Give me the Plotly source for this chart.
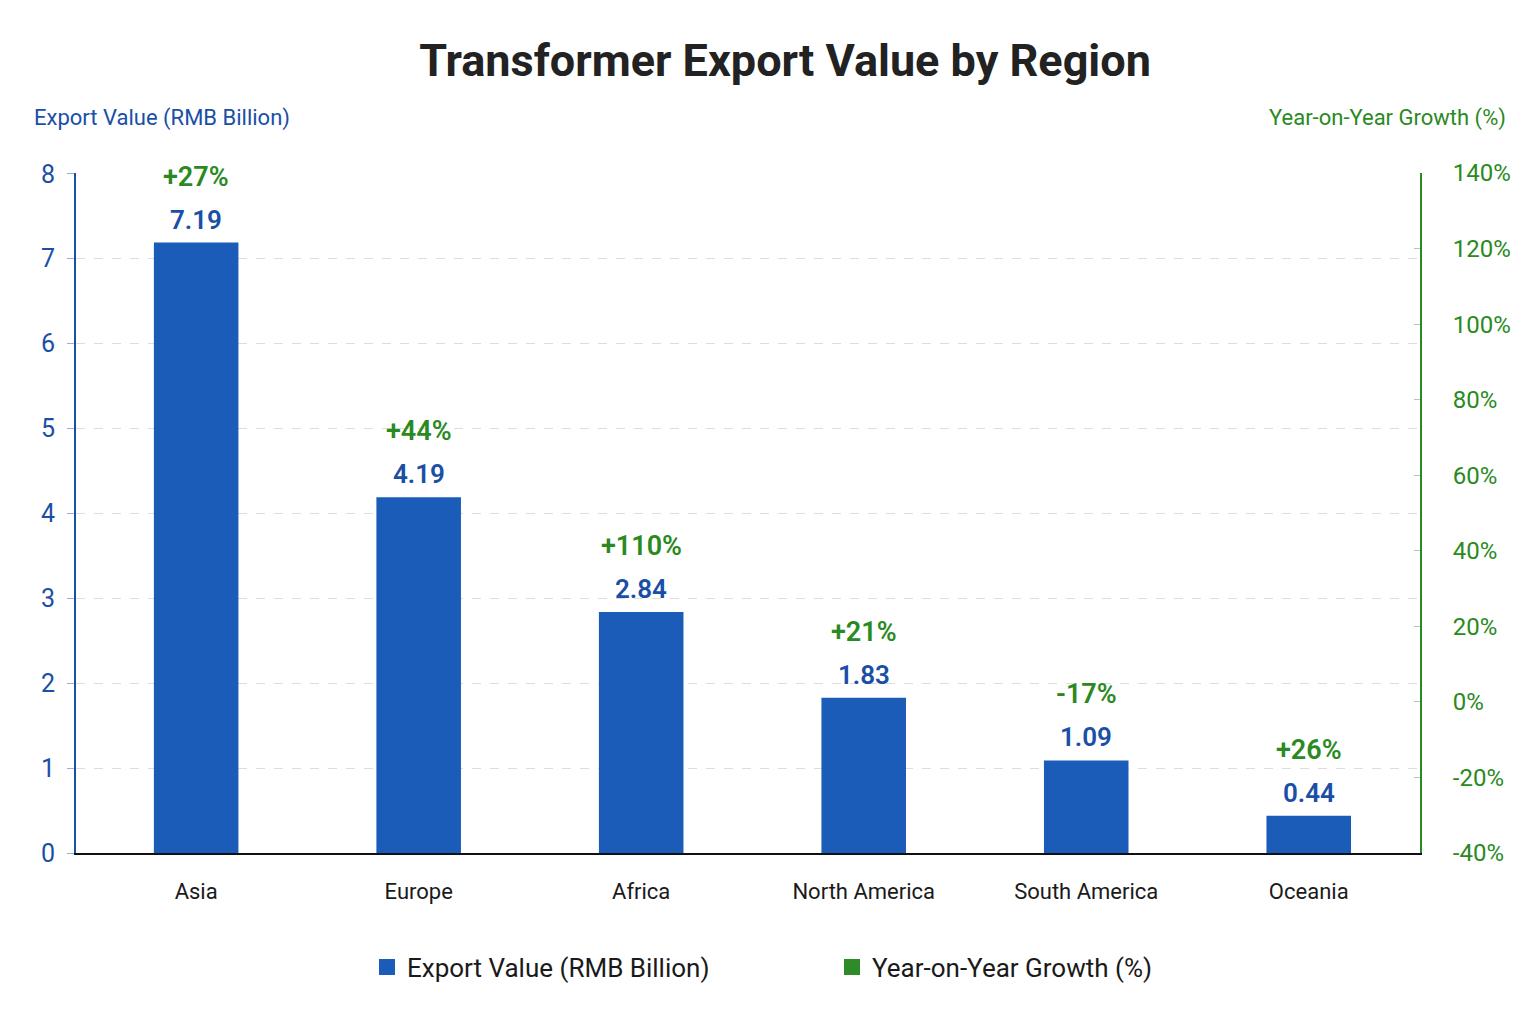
import plotly.graph_objects as go

regions = ["Asia", "Europe", "Africa", "North America", "South America", "Oceania"]
export_value = [7.19, 4.19, 2.84, 1.83, 1.09, 0.44]
yoy_growth = [27, 44, 110, 21, -17, 26]

left_ticks = [0, 1, 2, 3, 4, 5, 6, 7, 8]
right_ticks = [-40, -20, 0, 20, 40, 60, 80, 100, 120, 140]

BLUE_BAR = "#1a5cb8"
BLUE_TXT = "#1a4fa6"
GREEN = "#2a8a22"
LEG_GREEN = "#2e8b2a"
FONT = "Roboto"

# page offset of the browser (body margin)
OFF = 8
W, H = 1536, 1024
L, R, T, B = 76 - OFF, 124, 173 - OFF, 179
pw, ph = W - L - R, H - T - B


def px_x(x):
    return (x - OFF - L) / pw


def px_y(y):
    return (H - B - (y - OFF)) / ph


fig = go.Figure()
fig.add_trace(go.Bar(
    x=regions, y=export_value, name="Export Value (RMB Billion)",
    marker=dict(color=BLUE_BAR, line=dict(width=0)),
    yaxis="y", hoverinfo="skip", showlegend=False,
))
# legend entries
fig.add_trace(go.Scatter(
    x=[None], y=[None], mode="markers", name="Export Value (RMB Billion)",
    marker=dict(symbol="square", size=30, color=BLUE_BAR), yaxis="y",
    hoverinfo="skip",
))
fig.add_trace(go.Scatter(
    x=[None], y=[None], mode="markers", name="Year-on-Year Growth (%)",
    marker=dict(symbol="square", size=30, color=LEG_GREEN), yaxis="y2",
    hoverinfo="skip",
))

annotations = []
for r, v, g in zip(regions, export_value, yoy_growth):
    annotations.append(dict(
        x=r, y=v, xref="x", yref="y", text=f"{v:.2f}", showarrow=False,
        yanchor="bottom", yshift=6,
        font=dict(family=FONT, size=26, color=BLUE_TXT, weight=600),
    ))
    annotations.append(dict(
        x=r, y=v, xref="x", yref="y", text=f"{g:+d}%", showarrow=False,
        yanchor="bottom", yshift=48,
        font=dict(family=FONT, size=27, color=GREEN, weight=600),
    ))

annotations.append(dict(
    x=px_x(32), y=px_y(118), xref="paper", yref="paper",
    text="Export Value (RMB Billion)",
    showarrow=False, xanchor="left", yanchor="middle",
    font=dict(family=FONT, size=22, color=BLUE_TXT),
))
annotations.append(dict(
    x=px_x(1508), y=px_y(118), xref="paper", yref="paper",
    text="Year-on-Year Growth (%)",
    showarrow=False, xanchor="right", yanchor="middle",
    font=dict(family=FONT, size=22, color=GREEN),
))

fig.update_layout(
    width=W, height=H,
    margin=dict(l=L, r=R, t=T, b=B),
    paper_bgcolor="white", plot_bgcolor="white",
    font=dict(family=FONT),
    title=dict(
        text="<b>Transformer Export Value by Region</b>",
        x=(785 - OFF) / W, xanchor="center", y=1 - (60 - OFF) / H, yanchor="middle",
        font=dict(family=FONT, size=45, color="#222222"),
    ),
    bargap=0.62,
    showlegend=True,
    legend=dict(
        orientation="h", x=px_x(367), xanchor="left",
        y=px_y(967), yanchor="middle",
        font=dict(family=FONT, size=26, color="#1a1a1a"),
        itemsizing="trace", entrywidth=420, traceorder="normal",
    ),
    xaxis=dict(
        categoryorder="array", categoryarray=regions,
        range=[-0.54, 5.5],
        showline=True, linecolor="#111111", linewidth=2,
        ticks="", tickfont=dict(family=FONT, size=22, color="#1a1a1a"),
        showgrid=False, zeroline=False, ticklabelstandoff=18,
    ),
    yaxis=dict(
        range=[0, 8.01], tickvals=left_ticks,
        showline=True, linecolor=BLUE_TXT, linewidth=2,
        ticks="outside", ticklen=7, tickcolor="#9ab0d8",
        tickfont=dict(family=FONT, size=25, color=BLUE_TXT),
        showgrid=True, gridcolor="#dddddd", griddash="dash", gridwidth=1,
        zeroline=False, ticklabelstandoff=7,
    ),
    yaxis2=dict(
        range=[-40, 140], tickvals=right_ticks,
        ticktext=[f"{t}%" for t in right_ticks],
        overlaying="y", side="right",
        showline=True, linecolor=GREEN, linewidth=2,
        ticks="inside", ticklen=6, tickcolor="#a8d0a0",
        tickfont=dict(family=FONT, size=24, color=GREEN),
        showgrid=False, zeroline=False, ticklabelstandoff=26,
    ),
    annotations=annotations,
)

fig.write_html("out.html")
